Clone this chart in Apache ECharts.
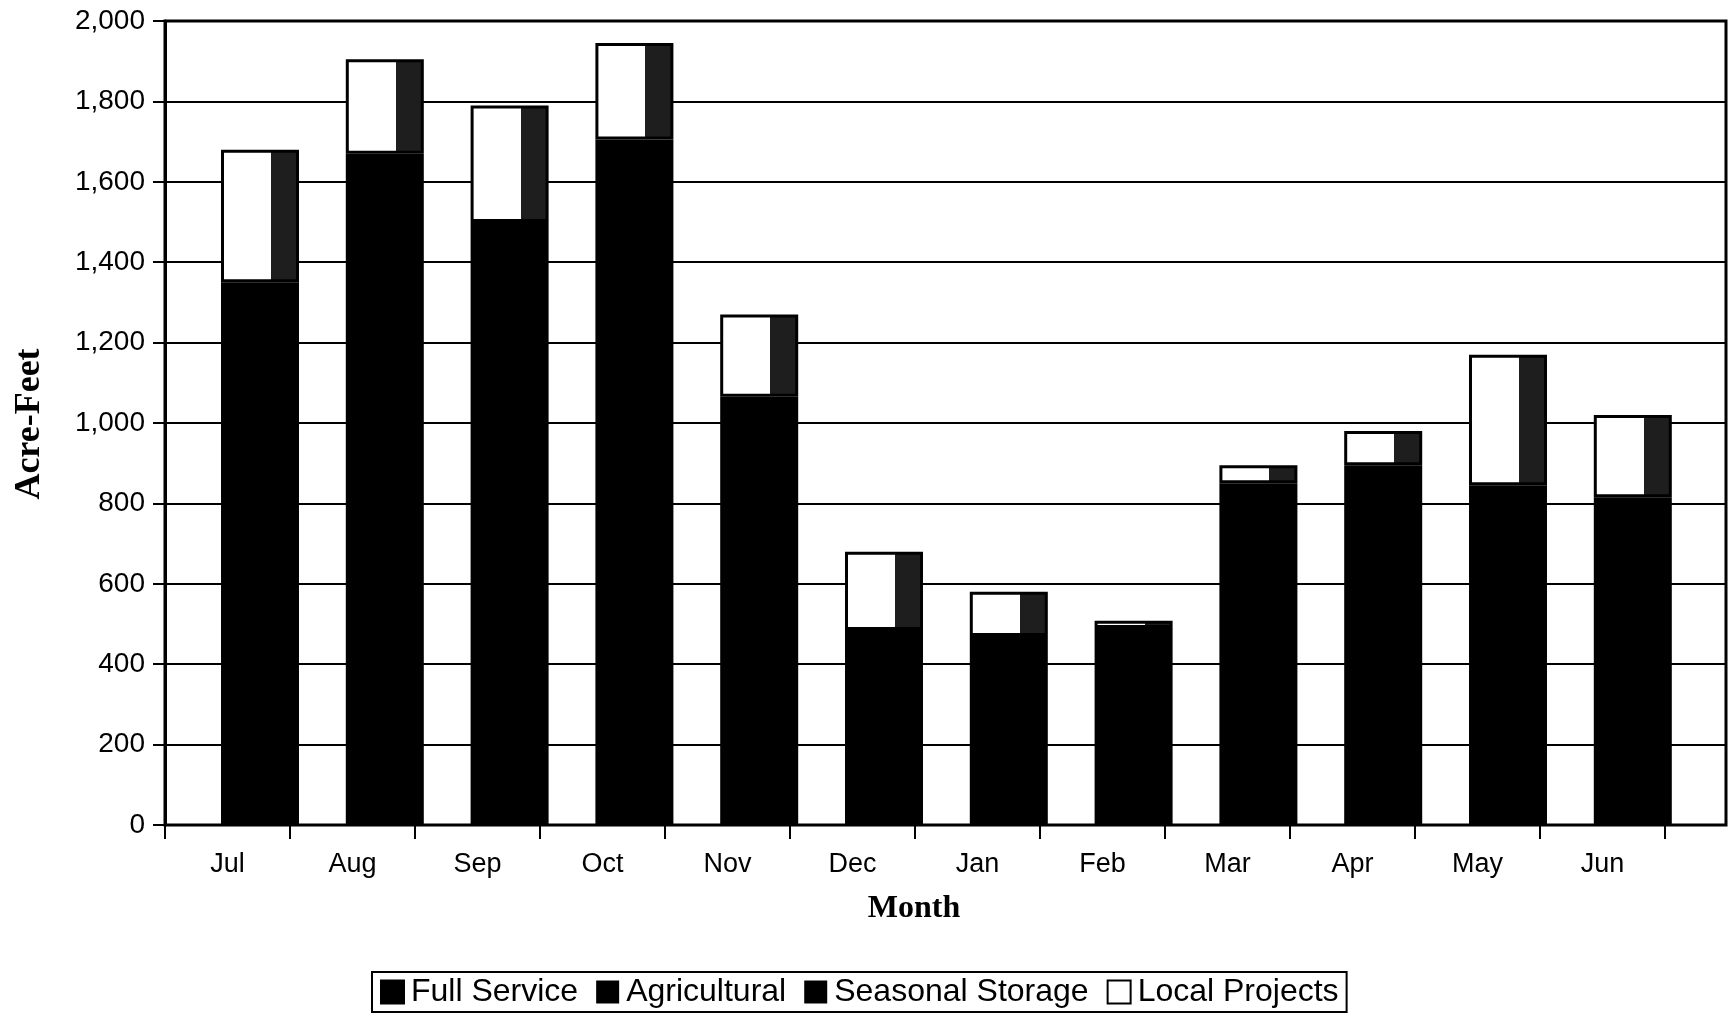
<!DOCTYPE html>
<html>
<head>
<meta charset="utf-8">
<script src="https://cdn.jsdelivr.net/npm/echarts@6/dist/echarts.min.js"></script>
<style>
html,body{margin:0;padding:0;background:#fff;}
#chart{width:1729px;height:1014px;}
</style>
</head>
<body>
<div id="chart"></div>
<script>
const months = ['Jul','Aug','Sep','Oct','Nov','Dec','Jan','Feb','Mar','Apr','May','Jun'];
const fullService = [1350, 1670, 1500, 1705, 1065, 485, 470, 490, 850, 895, 845, 815];
const agricultural = [0, 0, 0, 0, 0, 0, 0, 0, 0, 0, 0, 0];
const seasonalStorage = [0, 0, 0, 0, 0, 0, 0, 0, 0, 0, 0, 0];
const localProjects = [330, 235, 290, 240, 205, 195, 110, 18, 45, 85, 325, 205];
const yMin = 0, yMax = 2000, yStep = 200;

const chart = echarts.init(document.getElementById('chart'), null, {renderer:'canvas'});
const FONT = '"Liberation Sans", Arial, sans-serif';
const SERIF = '"Liberation Serif", "Times New Roman", serif';
const gTop = 21, gHeight = 804;

const localFill = {
  type: 'linear', x: 0, y: 0, x2: 1, y2: 0,
  colorStops: [
    {offset: 0, color: '#ffffff'},
    {offset: 0.64, color: '#ffffff'},
    {offset: 0.64, color: '#1e1e1e'},
    {offset: 1, color: '#1e1e1e'}
  ]
};

const option = {
  backgroundColor: '#fff',
  animation: false,
  grid: [
    {left: 165, top: gTop, width: 1561, height: gHeight, show: true, borderColor: '#000', borderWidth: 3, backgroundColor: 'transparent'},
    {left: 165, top: gTop, width: 1500, height: gHeight},
    {left: 197.6, top: gTop, width: 1497.6, height: gHeight}
  ],
  xAxis: [
    {gridIndex: 0, type: 'value', show: false, min: 0, max: 1},
    {gridIndex: 1, type: 'category', data: months, boundaryGap: true,
     axisLine: {show: true, lineStyle: {color: '#000', width: 2}},
     axisTick: {show: true, interval: 0, length: 14, lineStyle: {color: '#000', width: 2}},
     axisLabel: {interval: 0, margin: 26, color: '#000', fontSize: 27, fontFamily: FONT},
     splitLine: {show: false}},
    {gridIndex: 2, type: 'category', data: months, show: false}
  ],
  yAxis: [
    {gridIndex: 0, type: 'value', min: yMin, max: yMax, interval: yStep,
     axisLine: {show: true, lineStyle: {color: '#000', width: 3}},
     axisTick: {show: true, length: 12, lineStyle: {color: '#000', width: 2}},
     axisLabel: {margin: 20, color: '#000', fontSize: 28, fontFamily: FONT,
       formatter: v => v.toLocaleString('en-US')},
     splitLine: {show: true, lineStyle: {color: '#000', width: 2}}},
    {gridIndex: 1, type: 'value', min: yMin, max: yMax, show: false},
    {gridIndex: 2, type: 'value', min: yMin, max: yMax, show: false}
  ],
  legend: {
    left: 372, top: 972,
    orient: 'horizontal',
    itemWidth: 23, itemHeight: 23, itemGap: 18,
    padding: [4, 8, 4, 8],
    borderColor: '#000', borderWidth: 2,
    textStyle: {fontSize: 32, fontFamily: FONT, color: '#000', padding: [0,0,0,2]},
    data: [
      {name: 'Full Service', icon: 'rect', itemStyle: {color: '#000'}},
      {name: 'Agricultural', icon: 'rect', itemStyle: {color: '#000'}},
      {name: 'Seasonal Storage', icon: 'rect', itemStyle: {color: '#000'}},
      {name: 'Local Projects', icon: 'rect', itemStyle: {color: '#fff', borderColor: '#000', borderWidth: 2}}
    ]
  },
  graphic: [
    {type: 'text', x: 30, y: 424, rotation: Math.PI / 2,
     style: {text: 'Acre-Feet', font: 'bold 36px ' + SERIF, fill: '#000', textAlign: 'center', textVerticalAlign: 'middle'}},
    {type: 'text', x: 914, y: 909,
     style: {text: 'Month', font: 'bold 32px ' + SERIF, fill: '#000', textAlign: 'center', textVerticalAlign: 'middle'}}
  ],
  series: [
    {name: 'Full Service', type: 'bar', stack: 'total', xAxisIndex: 2, yAxisIndex: 2, barWidth: '62.5%',
     data: fullService, itemStyle: {color: '#000', borderColor: '#000', borderWidth: 2}},
    {name: 'Agricultural', type: 'bar', stack: 'total', xAxisIndex: 2, yAxisIndex: 2, barWidth: '62.5%',
     data: agricultural, itemStyle: {color: '#000'}},
    {name: 'Seasonal Storage', type: 'bar', stack: 'total', xAxisIndex: 2, yAxisIndex: 2, barWidth: '62.5%',
     data: seasonalStorage, itemStyle: {color: '#000'}},
    {name: 'Local Projects', type: 'bar', stack: 'total', xAxisIndex: 2, yAxisIndex: 2, barWidth: '62.5%',
     data: localProjects, itemStyle: {color: localFill, borderColor: '#000', borderWidth: 3}}
  ]
};
chart.setOption(option);
</script>
</body>
</html>
